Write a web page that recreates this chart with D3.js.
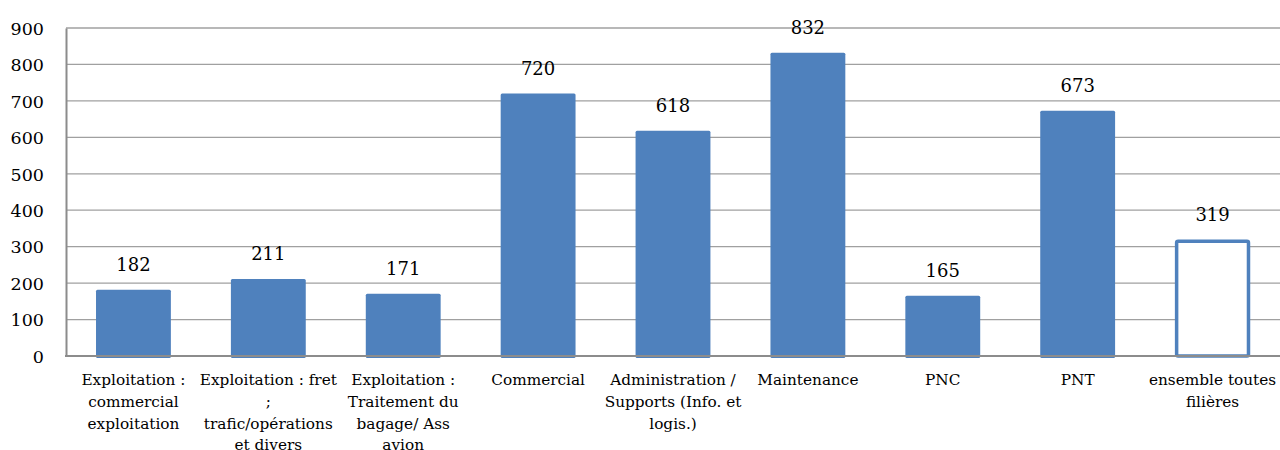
<!DOCTYPE html>
<html>
<head>
<meta charset="utf-8">
<script src="https://cdn.jsdelivr.net/npm/d3@7"></script>
<style>
  html, body { margin: 0; padding: 0; background: #fff; }
</style>
</head>
<body>
<svg id="chart" width="1280" height="450"></svg>
<script>
// Categories (line breaks mark how each label wraps under the axis)
const categories = [
  "Exploitation :\ncommercial\nexploitation",
  "Exploitation : fret\n;\ntrafic/opérations\net divers",
  "Exploitation :\nTraitement du\nbagage/ Ass\navion",
  "Commercial",
  "Administration /\nSupports (Info. et\nlogis.)",
  "Maintenance",
  "PNC",
  "PNT",
  "ensemble toutes\nfilières"
];
const values = [182, 211, 171, 720, 618, 832, 165, 673, 319];
// The overall total is drawn as an outlined bar
const outlined = [false, false, false, false, false, false, false, false, true];
const yTicks = [0, 100, 200, 300, 400, 500, 600, 700, 800, 900];

const FONT = "DejaVu Serif";
const svg = d3.select("#chart").style("font-family", FONT);
const margin = { left: 66, right: 0, top: 28, bottom: 94 };
const W = 1280, H = 450;
const blue = "#4F81BD";

const x = d3.scaleBand()
  .domain(d3.range(categories.length))
  .range([margin.left, W - margin.right])
  .paddingInner(0.445)
  .paddingOuter(0.2225);

const y = d3.scaleLinear()
  .domain([0, 900])
  .range([H - margin.bottom, margin.top]);

// Horizontal gridlines
svg.append("g")
  .selectAll("line")
  .data(yTicks.filter(d => d > 0))
  .join("line")
  .attr("x1", margin.left)
  .attr("x2", W)
  .attr("y1", d => y(d))
  .attr("y2", d => y(d))
  .attr("stroke", "#a0a0a0")
  .attr("stroke-width", 1.3);

// Bars
svg.append("g")
  .selectAll("rect")
  .data(values)
  .join("rect")
  .attr("x", (d, i) => outlined[i] ? x(i) + 1.5 : x(i))
  .attr("width", (d, i) => outlined[i] ? x.bandwidth() - 3 : x.bandwidth())
  .attr("y", (d, i) => outlined[i] ? y(d) + 1.5 : y(d))
  .attr("height", (d, i) => y(0) - y(d) + (outlined[i] ? -1.5 : 2))
  .attr("rx", 1.5)
  .attr("fill", (d, i) => outlined[i] ? "#fff" : blue)
  .attr("stroke", (d, i) => outlined[i] ? blue : "none")
  .attr("stroke-width", 3.5);

// Y axis
const yAxis = d3.axisLeft(y).tickValues(yTicks).tickSize(0).tickPadding(22);
const gy = svg.append("g")
  .attr("transform", `translate(${margin.left},0)`)
  .call(yAxis)
  .attr("font-family", FONT);
gy.select(".domain").attr("stroke", "#8c8c8c").attr("stroke-width", 2);
gy.selectAll("text")
  .attr("font-family", FONT)
  .style("font-size", "17.5px")
  .attr("fill", "#000")
  .attr("dy", "0.36em");

// Baseline
svg.append("line")
  .attr("x1", margin.left - 1)
  .attr("x2", W)
  .attr("y1", y(0))
  .attr("y2", y(0))
  .attr("stroke", "#8c8c8c")
  .attr("stroke-width", 2);

// Value labels above bars
svg.append("g")
  .selectAll("text")
  .data(values)
  .join("text")
  .attr("x", (d, i) => x(i) + x.bandwidth() / 2)
  .attr("y", d => y(d) - 19)
  .attr("text-anchor", "middle")
  .attr("font-family", FONT)
  .style("font-size", "18px")
  .text(d => d);

// Category labels, wrapped
const cat = svg.append("g")
  .selectAll("text")
  .data(categories)
  .join("text")
  .attr("x", (d, i) => x(i) + x.bandwidth() / 2)
  .attr("y", y(0) + 29)
  .attr("text-anchor", "middle")
  .attr("font-family", FONT)
  .style("font-size", "15.3px");
cat.each(function(d, i) {
  const lines = d.split("\n");
  d3.select(this).selectAll("tspan")
    .data(lines)
    .join("tspan")
    .attr("x", x(i) + x.bandwidth() / 2)
    .attr("dy", (l, j) => j === 0 ? 0 : 21.8)
    .text(l => l);
});
</script>
</body>
</html>
